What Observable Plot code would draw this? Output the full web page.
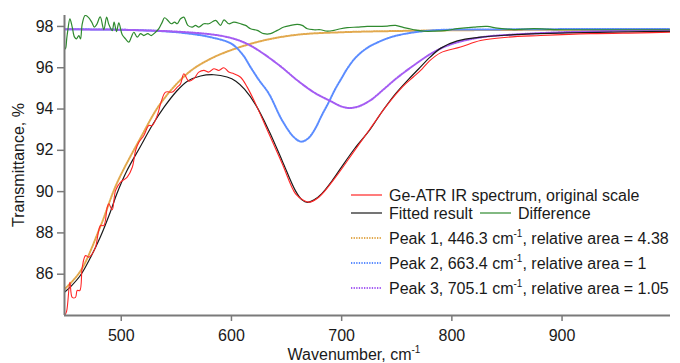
<!DOCTYPE html>
<html><head><meta charset="utf-8">
<script src="https://cdn.jsdelivr.net/npm/d3@7"></script>
<script src="https://cdn.jsdelivr.net/npm/@observablehq/plot@0.6"></script>
<style>
body{margin:0;background:#fff;}
#chart svg{font-family:"Liberation Sans",Arial,sans-serif;}
#chart g[aria-label$="tick"] path{stroke:#7a7a7a;stroke-width:1.5px;}
</style></head><body><div id="chart"></div>
<script>
// ---- data ----
const xTicks = [500, 600, 700, 800, 900];
const yTicks = [86, 88, 90, 92, 94, 96, 98];

const spectrumX = [448.6,450.4,453.4,455.5,458.5,460,462.4,464.6,467.6,470.6,473.7,476.7,481.2,484.2,487.3,488.7,491.8,494.8,499.4,505.4,510,513,516,520.5,525,528.1,532.7,535.7,540.2,546.3,550.8,553.8,556.8,561.3,565.9,570.4,575,579.5,584,588.6,593.1,597.6,602.2,608.3,614.3,621.9,634,646.1,658.2,665.7,670.2,679.3,694.5,709.6,724.7,739.8,755,765,773.1,779.1,789.7,807.9,826,850.3,880.5,925.9,971.3,998.4];
const spectrumY = [84.0,84.2,85.61,84.88,84.88,85.21,85.21,86.34,86.90,86.82,86.99,87.31,88.36,88.36,89.25,89.41,89.12,90.05,90.46,90.70,91.18,91.99,92.39,92.72,93.20,93.20,93.69,94.25,94.82,94.82,95.06,95.22,95.71,95.35,95.47,95.79,95.87,95.79,95.95,95.87,96.0,95.79,95.71,95.54,95.06,94.25,92.80,91.35,89.89,89.57,89.49,89.73,90.70,91.83,92.96,94.09,95.06,95.55,95.95,96.3,96.72,97.0,97.32,97.48,97.56,97.65,97.69,97.72];

const fitX = [449,455,463,472,481,490,496,505,517,528,539,550,560,572,584,596,604,612,622,634,646,658,664,669,675,682,691,700,712,725,737,749,760,770,780,790,805,826,850,880,920,960,998.4];
const fitY = [85.15,85.45,85.95,86.8,87.8,89.0,89.9,91.0,92.15,93.2,94.1,94.85,95.35,95.6,95.66,95.55,95.35,94.95,94.2,92.95,91.5,90.05,89.6,89.48,89.6,89.9,90.5,91.2,92.1,92.95,93.9,94.75,95.4,95.95,96.5,96.95,97.3,97.48,97.58,97.65,97.7,97.74,97.76];

const diffX = [448.6,449.5,450.5,451.5,453.4,455.5,457.6,459.4,461.5,463,464.6,467.2,470,473.2,475.6,477.8,480.9,484.2,486.7,488.7,491.8,493.5,495.7,497.8,500.9,503.9,506.9,509.1,511.4,514.5,517.5,520.5,524.1,527.2,531.1,534.1,537.2,539.3,542.3,545.4,548.4,550.8,553.8,556.8,560.4,564.4,567.4,570.4,575,579.5,585.6,590.1,593.2,597.6,602.2,608.3,612.8,617.3,623.4,629.4,635.5,641.6,647.6,653.6,659.7,664.2,668.8,674.8,680.9,686.9,693,699,705.1,714.2,723.2,732.3,741.4,748.9,756.5,765.5,774.6,783.7,795.8,804.9,820,832.1,841.2,856.3,874.4,892.6,910.7,941,971.3,998.4];
const diffY = [96.9,96.95,97.4,97.81,98.37,97.97,97.48,97.40,97.56,97.40,98.13,98.53,98.45,98.21,97.97,98.1,98.46,97.85,98.45,98.1,97.8,98.21,97.75,98.17,97.6,97.40,97.24,97.48,97.72,97.48,97.65,97.56,97.65,97.56,97.72,97.89,98.21,98.42,98.29,98.13,98.21,98.13,98.37,98.45,98.05,97.97,98.05,97.97,98.13,98.13,98.29,98.05,98.32,98.13,98.21,98.13,98.05,97.89,97.81,97.65,97.65,97.81,97.97,98.05,98.10,98.05,97.89,97.84,97.84,97.77,97.81,97.89,97.94,97.97,98.0,98.0,98.02,98.05,97.94,97.84,97.77,97.77,97.81,97.89,97.97,98.0,97.92,97.85,97.89,97.85,97.84,97.84,97.84,97.84];

const peak1X = [449,463,481,496,517.5,536,560,578,599,629,660,700,750,817,900,998.4];
const peak1Y = [85.3,86.15,88.3,90.4,92.6,94.3,95.72,96.35,96.84,97.32,97.6,97.72,97.78,97.82,97.84,97.85];

const peak2X = [448.6,500,550,581,600,610,617.3,625,634,646,656.6,663.5,670,676,682,688,694,700,705,712,719,726,738,750,780,850,998.4];
const peak2Y = [97.86,97.84,97.72,97.48,97.16,96.65,96.03,95.4,94.74,93.45,92.64,92.42,92.6,93.05,93.7,94.3,94.95,95.5,95.95,96.45,96.8,97.05,97.35,97.56,97.8,97.86,97.87];

const peak3X = [448.6,500,550,581,595,608,618,629,645,660,675,690,700,707,715,726,738,750,765,781,795,810,830,860,900,950,998.4];
const peak3Y = [97.86,97.84,97.75,97.62,97.5,97.3,97.05,96.68,96.05,95.38,94.8,94.38,94.12,94.05,94.12,94.42,94.95,95.5,96.1,96.68,97.05,97.3,97.5,97.62,97.72,97.79,97.82];

const legendLabels = ["Ge-ATR IR spectrum, original scale", "Fitted result", "Difference",
  "Peak 1, 446.3 cm", "Peak 2, 663.4 cm", "Peak 3, 705.1 cm"];
const legendTails = [", relative area = 4.38", ", relative area = 1", ", relative area = 1.05"];
const xLabel = "Wavenumber, cm";
const yLabel = "Transmittance, %";

// ---- colours ----
const C = {spectrum:"#ff2626", fit:"#1a1a1a", diff:"#2f8a2f", p1:"#e2a94e", p2:"#5b8cff", p3:"#a45cf2"};

const rows = (xs, ys) => xs.map((x, i) => ({x, y: ys[i]}));
const dotted = {strokeWidth: 2, strokeDasharray: "1.3,1.3", curve: "catmull-rom", clip: true};

const plot = Plot.plot({
  width: 680, height: 363,
  marginLeft: 64, marginRight: 10, marginTop: 15, marginBottom: 48,
  style: {fontFamily: "Liberation Sans, Arial, sans-serif", fontSize: "16px", color: "#1a1a1a", background: "white", overflow: "visible"},
  x: {domain: [448.5, 998.4], ticks: xTicks, tickSize: 6, tickPadding: 8, label: null},
  y: {domain: [84, 98.53], ticks: yTicks, tickSize: 7, tickPadding: 4, label: null},
  marks: [
    Plot.line(rows(peak1X, peak1Y), {x: "x", y: "y", stroke: C.p1, ...dotted}),
    Plot.line(rows(peak2X, peak2Y), {x: "x", y: "y", stroke: C.p2, ...dotted}),
    Plot.line(rows(peak3X, peak3Y), {x: "x", y: "y", stroke: C.p3, ...dotted}),
    Plot.line(rows(fitX, fitY), {x: "x", y: "y", stroke: C.fit, strokeWidth: 1.2, curve: "catmull-rom", clip: true}),
    Plot.line(rows(spectrumX, spectrumY), {x: "x", y: "y", stroke: C.spectrum, strokeWidth: 1.1, curve: "catmull-rom", clip: true}),
    Plot.line(rows(diffX, diffY), {x: "x", y: "y", stroke: C.diff, strokeWidth: 1.2, curve: "catmull-rom", clip: true}),
    Plot.ruleY([84], {stroke: "#7a7a7a", strokeWidth: 2}),
    Plot.ruleX([448.5], {stroke: "#7a7a7a", strokeWidth: 2})
  ]
});
document.getElementById("chart").append(plot);

// ---- legend & axis titles ----
const svg = d3.select(plot);
const g = svg.append("g").attr("font-family", "Liberation Sans, Arial, sans-serif").attr("font-size", 16)
  .attr("fill", "#1a1a1a").attr("text-anchor", "start");
const items = [
  {x1: 351, x2: 382, tx: 389, y: 195, color: C.spectrum, dash: null, text: legendLabels[0]},
  {x1: 351, x2: 382, tx: 389, y: 213, color: C.fit, dash: null, text: legendLabels[1]},
  {x1: 480, x2: 511, tx: 518, y: 213, color: C.diff, dash: null, text: legendLabels[2]},
  {x1: 351, x2: 382, tx: 389, y: 238, color: C.p1, dash: "1.3,1.3", text: legendLabels[3], tail: legendTails[0]},
  {x1: 351, x2: 382, tx: 389, y: 263, color: C.p2, dash: "1.3,1.3", text: legendLabels[4], tail: legendTails[1]},
  {x1: 351, x2: 382, tx: 389, y: 288, color: C.p3, dash: "1.3,1.3", text: legendLabels[5], tail: legendTails[2]}
];
for (const it of items) {
  g.append("line").attr("x1", it.x1).attr("x2", it.x2).attr("y1", it.y).attr("y2", it.y)
    .attr("stroke", it.color).attr("stroke-width", it.dash ? 2 : 1.2).attr("stroke-dasharray", it.dash);
  const t = g.append("text").attr("x", it.tx).attr("y", it.y + 5.7).text(it.text);
  if (it.tail) {
    t.append("tspan").attr("dy", -6.5).attr("font-size", 10).text("-1");
    t.append("tspan").attr("dy", 6.5).text(it.tail);
  }
}
const xt = g.append("text").attr("x", 354).attr("y", 359.5).attr("text-anchor", "middle").text(xLabel);
xt.append("tspan").attr("dy", -6.5).attr("font-size", 10).text("-1");
g.append("text").attr("transform", "translate(23.5,165) rotate(-90)").attr("text-anchor", "middle").text(yLabel);
</script></body></html>
